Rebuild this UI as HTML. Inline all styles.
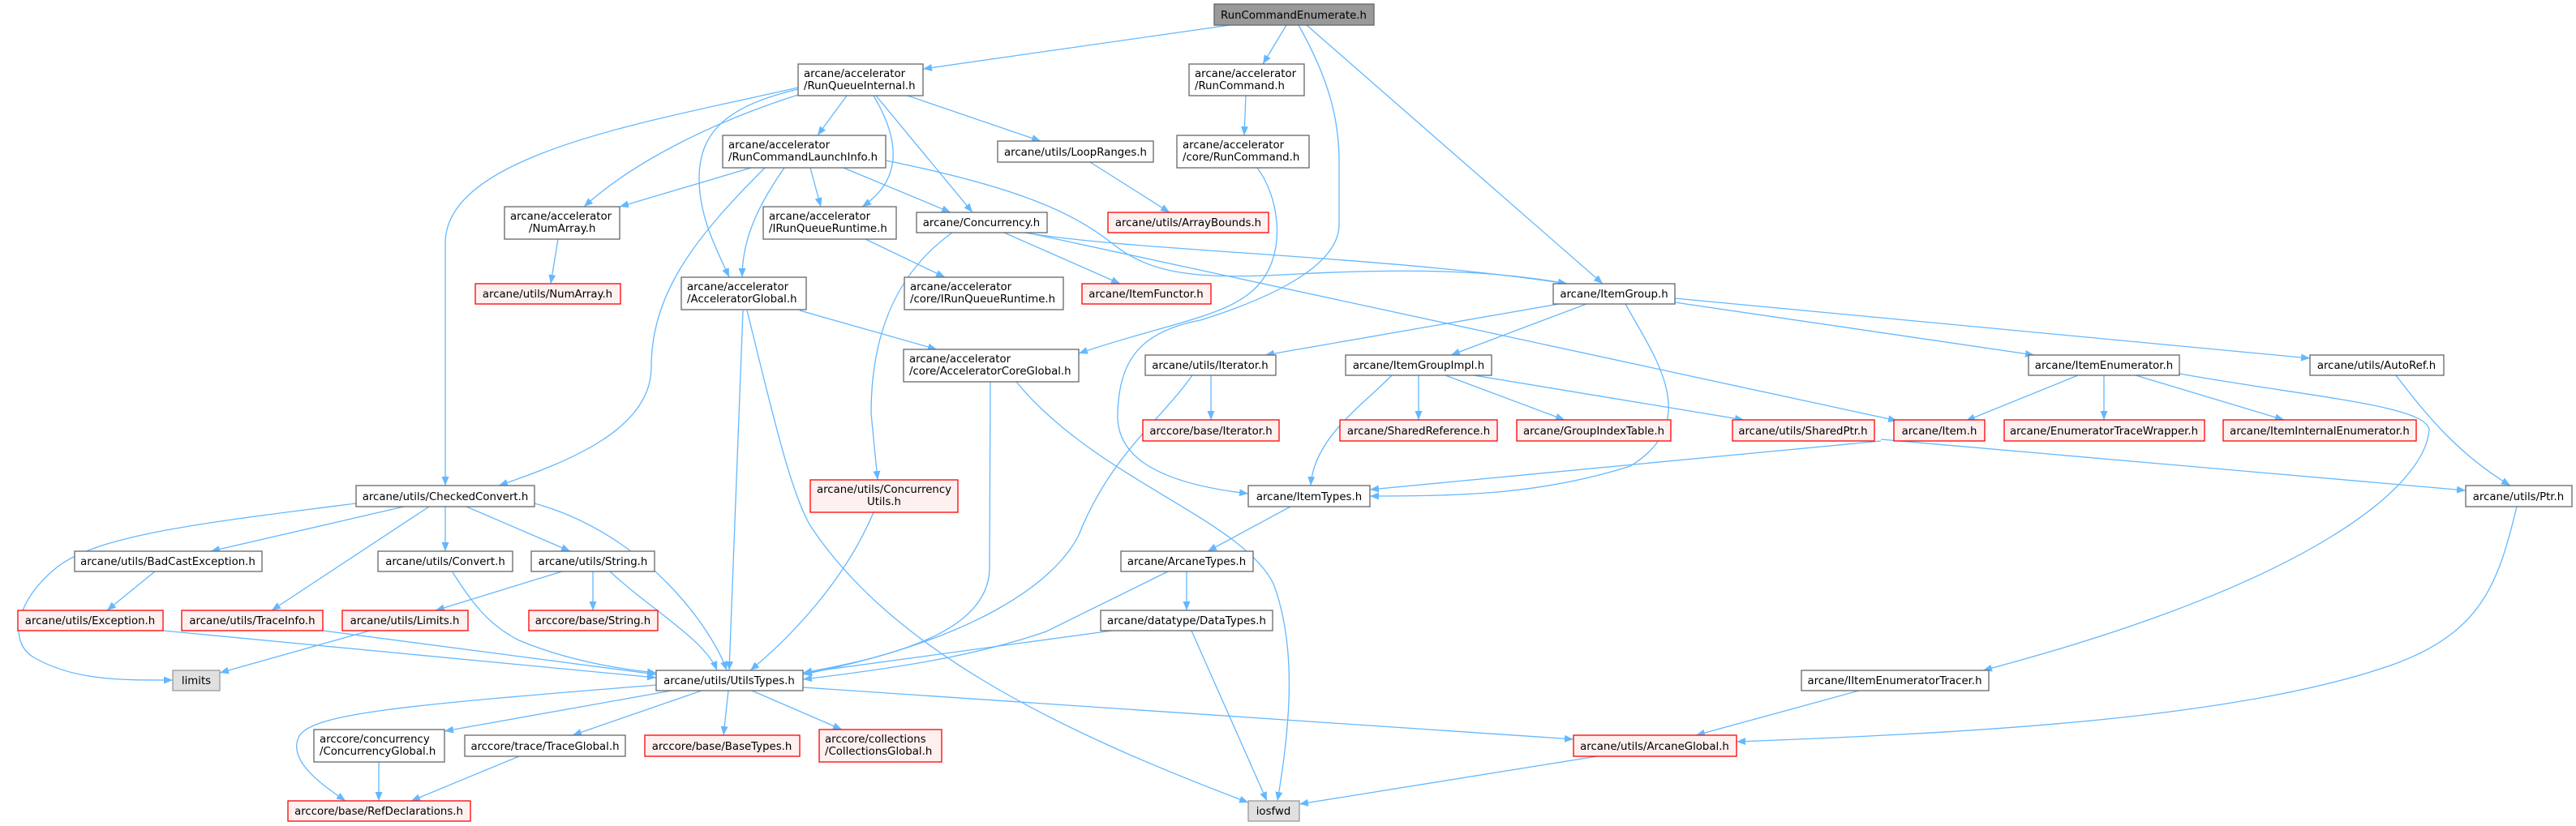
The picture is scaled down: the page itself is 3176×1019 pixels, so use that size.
<!DOCTYPE html>
<html><head><meta charset="utf-8"><style>
html,body{margin:0;padding:0;background:#fff;}
svg{display:block;}
text{font-family:"DejaVu Sans","Liberation Sans",sans-serif;font-size:13.3px;fill:#000;}
.e{fill:none;stroke:#63b8ff;stroke-width:1.3;marker-end:url(#a);}
.n rect{fill:#fff;stroke:#666;stroke-width:1.3;}
.r rect{fill:#fff0f0;stroke:#f00;stroke-width:1.3;}
.g rect{fill:#e0e0e0;stroke:#999;stroke-width:1.3;}
.root rect{fill:#999;stroke:#666;stroke-width:1.3;}
</style></head><body>
<svg width="3176" height="1019" viewBox="0 0 3176 1019" xmlns="http://www.w3.org/2000/svg">
<defs><marker id="a" markerUnits="userSpaceOnUse" markerWidth="12" markerHeight="9" refX="11" refY="4.5" orient="auto"><path d="M0,0 L11,4.5 L0,9 z" fill="#63b8ff"/></marker></defs>

<!-- edges -->
<path class="e" d="M1516,31 L1138,85"/>
<path class="e" d="M1586,31 L1557,79"/>
<path class="e" d="M1611,31 L1976,350"/>
<path class="e" d="M1601,31 C1640,100 1651,150 1651,200 L1651,277 C1651,330 1560,370 1480,395 C1400,410 1380,450 1378,510 C1376,560 1420,595 1539,609"/>
<path class="e" d="M1044,118 L1008,167"/>
<path class="e" d="M1119,118 L1283,174"/>
<path class="e" d="M1080,118 L1199,262"/>
<path class="e" d="M1077,118 C1108,170 1115,220 1063,255"/>
<path class="e" d="M984,117 C880,150 780,200 720,255"/>
<path class="e" d="M984,110 C900,130 862,160 862,220 C862,270 885,310 899,342"/>
<path class="e" d="M984,108 C800,150 549,190 549,300 L549,599"/>
<path class="e" d="M1536,118 L1534,167"/>
<path class="e" d="M1344,200 L1442,262"/>
<path class="e" d="M926,207 L764,255"/>
<path class="e" d="M999,207 L1012,255"/>
<path class="e" d="M1040,207 L1172,262"/>
<path class="e" d="M967,207 C930,260 915,300 915,342"/>
<path class="e" d="M943,207 C860,290 803,360 803,453 C803,530 700,570 615,599"/>
<path class="e" d="M1092,198 C1250,230 1320,260 1371,300 C1420,340 1480,345 1600,338 C1750,330 1850,335 1932,350"/>
<path class="e" d="M1067,295 L1165,342"/>
<path class="e" d="M688,295 L679,350"/>
<path class="e" d="M1238,287 L1381,350"/>
<path class="e" d="M1263,287 C1400,310 1700,315 1932,350"/>
<path class="e" d="M1266,287 L2339,519"/>
<path class="e" d="M1174,287 C1100,340 1074,420 1074,510 L1082,592"/>
<path class="e" d="M986,383 L1155,431"/>
<path class="e" d="M916,383 L899,827"/>
<path class="e" d="M921,383 C950,500 975,610 1000,650 C1100,800 1300,900 1539,990"/>
<path class="e" d="M1221,471 L1220,700 C1220,780 1100,810 990,830"/>
<path class="e" d="M1253,471 C1350,590 1530,640 1570,720 C1600,800 1590,900 1575,988"/>
<path class="e" d="M1550,207 C1575,240 1585,300 1560,340 C1530,390 1450,395 1330,436"/>
<path class="e" d="M1077,632 C1040,720 970,790 925,827"/>
<path class="e" d="M1922,375 L1560,438"/>
<path class="e" d="M1956,375 L1789,438"/>
<path class="e" d="M2065,373 L2508,438"/>
<path class="e" d="M2065,368 L2848,442"/>
<path class="e" d="M2004,375 C2040,440 2100,520 2010,575 C1900,610 1800,612 1689,612"/>
<path class="e" d="M1493,463 L1493,518"/>
<path class="e" d="M1470,463 C1430,520 1370,560 1330,660 C1300,720 1200,790 990,832"/>
<path class="e" d="M1716,463 C1680,500 1620,540 1616,599"/>
<path class="e" d="M1749,463 L1749,518"/>
<path class="e" d="M1782,463 L1929,518"/>
<path class="e" d="M1817,463 L2150,518"/>
<path class="e" d="M2562,463 L2424,519"/>
<path class="e" d="M2594,463 L2594,518"/>
<path class="e" d="M2633,463 L2816,518"/>
<path class="e" d="M2687,461 C2850,490 2990,500 2995,530 C2990,600 2850,720 2445,827"/>
<path class="e" d="M2954,463 C2990,510 3030,560 3095,599"/>
<path class="e" d="M2319,542 L3040,605"/>
<path class="e" d="M2319,544 L1689,604"/>
<path class="e" d="M1591,625 L1489,680"/>
<path class="e" d="M1463,705 L1463,753"/>
<path class="e" d="M1440,705 L1290,779 C1200,810 1100,825 990,838"/>
<path class="e" d="M1371,778 L990,830"/>
<path class="e" d="M1469,778 L1562,988"/>
<path class="e" d="M3103,625 C3080,720 3060,780 2950,820 C2750,890 2400,905 2141,915"/>
<path class="e" d="M2292,852 L2091,907"/>
<path class="e" d="M1969,933 L1602,992"/>
<path class="e" d="M990,848 L1940,912"/>
<path class="e" d="M809,845 C500,870 380,880 368,910 C355,940 400,970 426,988"/>
<path class="e" d="M828,852 L548,902"/>
<path class="e" d="M865,852 L706,907"/>
<path class="e" d="M898,852 L892,907"/>
<path class="e" d="M927,852 L1038,900"/>
<path class="e" d="M467,940 L467,988"/>
<path class="e" d="M640,933 L507,988"/>
<path class="e" d="M439,621 C250,645 120,660 70,700 C20,740 10,790 40,810 C90,840 150,839 213,839"/>
<path class="e" d="M498,625 L260,680"/>
<path class="e" d="M529,625 L335,753"/>
<path class="e" d="M549,625 L549,680"/>
<path class="e" d="M575,625 L703,680"/>
<path class="e" d="M659,621 C800,660 880,780 896,827"/>
<path class="e" d="M191,705 L132,753"/>
<path class="e" d="M201,778 L809,836"/>
<path class="e" d="M398,778 L809,832"/>
<path class="e" d="M456,778 L271,830"/>
<path class="e" d="M558,706 C580,740 600,770 640,790 C700,815 760,825 809,830"/>
<path class="e" d="M693,705 L537,753"/>
<path class="e" d="M731,705 L731,753"/>
<path class="e" d="M752,705 C800,750 870,790 884,827"/>

<!-- nodes -->
<g class="root"><rect x="1497" y="5" width="197" height="26"/><text x="1595" y="23" text-anchor="middle">RunCommandEnumerate.h</text></g>
<g class="n"><rect x="984" y="79" width="154" height="39"/><text x="991" y="95">arcane/accelerator</text><text x="991" y="110">/RunQueueInternal.h</text></g>
<g class="n"><rect x="1466" y="79" width="142" height="39"/><text x="1473" y="95">arcane/accelerator</text><text x="1473" y="110">/RunCommand.h</text></g>
<g class="n"><rect x="1230" y="174" width="192" height="26"/><text x="1326" y="192" text-anchor="middle">arcane/utils/LoopRanges.h</text></g>
<g class="n"><rect x="1451" y="167" width="163" height="40"/><text x="1458" y="183">arcane/accelerator</text><text x="1458" y="198">/core/RunCommand.h</text></g>
<g class="n"><rect x="891" y="167" width="201" height="40"/><text x="898" y="183">arcane/accelerator</text><text x="898" y="198">/RunCommandLaunchInfo.h</text></g>
<g class="n"><rect x="941" y="255" width="164" height="40"/><text x="948" y="271">arcane/accelerator</text><text x="948" y="286">/IRunQueueRuntime.h</text></g>
<g class="n"><rect x="1130" y="262" width="161" height="25"/><text x="1210" y="279" text-anchor="middle">arcane/Concurrency.h</text></g>
<g class="r"><rect x="1366" y="262" width="198" height="25"/><text x="1465" y="279" text-anchor="middle">arcane/utils/ArrayBounds.h</text></g>
<g class="n"><rect x="622" y="255" width="142" height="40"/><text x="629" y="271">arcane/accelerator</text><text x="652" y="286">/NumArray.h</text></g>
<g class="r"><rect x="586" y="350" width="179" height="25"/><text x="675" y="367" text-anchor="middle">arcane/utils/NumArray.h</text></g>
<g class="n"><rect x="840" y="342" width="154" height="40"/><text x="847" y="358">arcane/accelerator</text><text x="847" y="373">/AcceleratorGlobal.h</text></g>
<g class="n"><rect x="1115" y="342" width="196" height="40"/><text x="1122" y="358">arcane/accelerator</text><text x="1122" y="373">/core/IRunQueueRuntime.h</text></g>
<g class="r"><rect x="1334" y="350" width="159" height="25"/><text x="1413" y="367" text-anchor="middle">arcane/ItemFunctor.h</text></g>
<g class="n"><rect x="1915" y="350" width="150" height="25"/><text x="1990" y="367" text-anchor="middle">arcane/ItemGroup.h</text></g>
<g class="n"><rect x="1114" y="431" width="216" height="40"/><text x="1121" y="447">arcane/accelerator</text><text x="1121" y="462">/core/AcceleratorCoreGlobal.h</text></g>
<g class="n"><rect x="1412" y="438" width="161" height="25"/><text x="1492" y="455" text-anchor="middle">arcane/utils/Iterator.h</text></g>
<g class="n"><rect x="1659" y="438" width="180" height="25"/><text x="1749" y="455" text-anchor="middle">arcane/ItemGroupImpl.h</text></g>
<g class="n"><rect x="2501" y="438" width="186" height="25"/><text x="2594" y="455" text-anchor="middle">arcane/ItemEnumerator.h</text></g>
<g class="n"><rect x="2848" y="438" width="165" height="25"/><text x="2930" y="455" text-anchor="middle">arcane/utils/AutoRef.h</text></g>
<g class="r"><rect x="1409" y="518" width="168" height="26"/><text x="1493" y="536" text-anchor="middle">arccore/base/Iterator.h</text></g>
<g class="r"><rect x="1652" y="518" width="194" height="26"/><text x="1749" y="536" text-anchor="middle">arcane/SharedReference.h</text></g>
<g class="r"><rect x="1870" y="518" width="190" height="26"/><text x="1965" y="536" text-anchor="middle">arcane/GroupIndexTable.h</text></g>
<g class="r"><rect x="2136" y="518" width="175" height="26"/><text x="2223" y="536" text-anchor="middle">arcane/utils/SharedPtr.h</text></g>
<g class="r"><rect x="2335" y="518" width="112" height="26"/><text x="2391" y="536" text-anchor="middle">arcane/Item.h</text></g>
<g class="r"><rect x="2471" y="518" width="247" height="26"/><text x="2594" y="536" text-anchor="middle">arcane/EnumeratorTraceWrapper.h</text></g>
<g class="r"><rect x="2741" y="518" width="238" height="26"/><text x="2860" y="536" text-anchor="middle">arcane/ItemInternalEnumerator.h</text></g>
<g class="r"><rect x="999" y="592" width="182" height="40"/><text x="1090" y="608" text-anchor="middle">arcane/utils/Concurrency</text><text x="1090" y="623" text-anchor="middle">Utils.h</text></g>
<g class="n"><rect x="1539" y="599" width="150" height="26"/><text x="1614" y="617" text-anchor="middle">arcane/ItemTypes.h</text></g>
<g class="n"><rect x="3040" y="599" width="131" height="26"/><text x="3105" y="617" text-anchor="middle">arcane/utils/Ptr.h</text></g>
<g class="n"><rect x="439" y="599" width="220" height="26"/><text x="549" y="617" text-anchor="middle">arcane/utils/CheckedConvert.h</text></g>
<g class="n"><rect x="92" y="680" width="231" height="25"/><text x="207" y="697" text-anchor="middle">arcane/utils/BadCastException.h</text></g>
<g class="n"><rect x="466" y="680" width="166" height="25"/><text x="549" y="697" text-anchor="middle">arcane/utils/Convert.h</text></g>
<g class="n"><rect x="655" y="680" width="152" height="25"/><text x="731" y="697" text-anchor="middle">arcane/utils/String.h</text></g>
<g class="n"><rect x="1382" y="680" width="163" height="25"/><text x="1463" y="697" text-anchor="middle">arcane/ArcaneTypes.h</text></g>
<g class="r"><rect x="22" y="753" width="179" height="25"/><text x="111" y="770" text-anchor="middle">arcane/utils/Exception.h</text></g>
<g class="r"><rect x="224" y="753" width="174" height="25"/><text x="311" y="770" text-anchor="middle">arcane/utils/TraceInfo.h</text></g>
<g class="r"><rect x="422" y="753" width="155" height="25"/><text x="499" y="770" text-anchor="middle">arcane/utils/Limits.h</text></g>
<g class="r"><rect x="652" y="753" width="159" height="25"/><text x="731" y="770" text-anchor="middle">arccore/base/String.h</text></g>
<g class="n"><rect x="1357" y="753" width="212" height="25"/><text x="1463" y="770" text-anchor="middle">arcane/datatype/DataTypes.h</text></g>
<g class="g"><rect x="213" y="827" width="58" height="25"/><text x="242" y="844" text-anchor="middle">limits</text></g>
<g class="n"><rect x="809" y="827" width="181" height="25"/><text x="899" y="844" text-anchor="middle">arcane/utils/UtilsTypes.h</text></g>
<g class="n"><rect x="2221" y="827" width="231" height="25"/><text x="2336" y="844" text-anchor="middle">arcane/IItemEnumeratorTracer.h</text></g>
<g class="n"><rect x="387" y="900" width="161" height="40"/><text x="394" y="916">arccore/concurrency</text><text x="394" y="931">/ConcurrencyGlobal.h</text></g>
<g class="n"><rect x="573" y="907" width="198" height="26"/><text x="672" y="925" text-anchor="middle">arccore/trace/TraceGlobal.h</text></g>
<g class="r"><rect x="795" y="907" width="191" height="26"/><text x="890" y="925" text-anchor="middle">arccore/base/BaseTypes.h</text></g>
<g class="r"><rect x="1010" y="900" width="151" height="40"/><text x="1017" y="916">arccore/collections</text><text x="1017" y="931">/CollectionsGlobal.h</text></g>
<g class="r"><rect x="1940" y="907" width="201" height="26"/><text x="2040" y="925" text-anchor="middle">arcane/utils/ArcaneGlobal.h</text></g>
<g class="r"><rect x="355" y="988" width="225" height="25"/><text x="467" y="1005" text-anchor="middle">arccore/base/RefDeclarations.h</text></g>
<g class="g"><rect x="1539" y="988" width="63" height="25"/><text x="1570" y="1005" text-anchor="middle">iosfwd</text></g>
</svg>
</body></html>
